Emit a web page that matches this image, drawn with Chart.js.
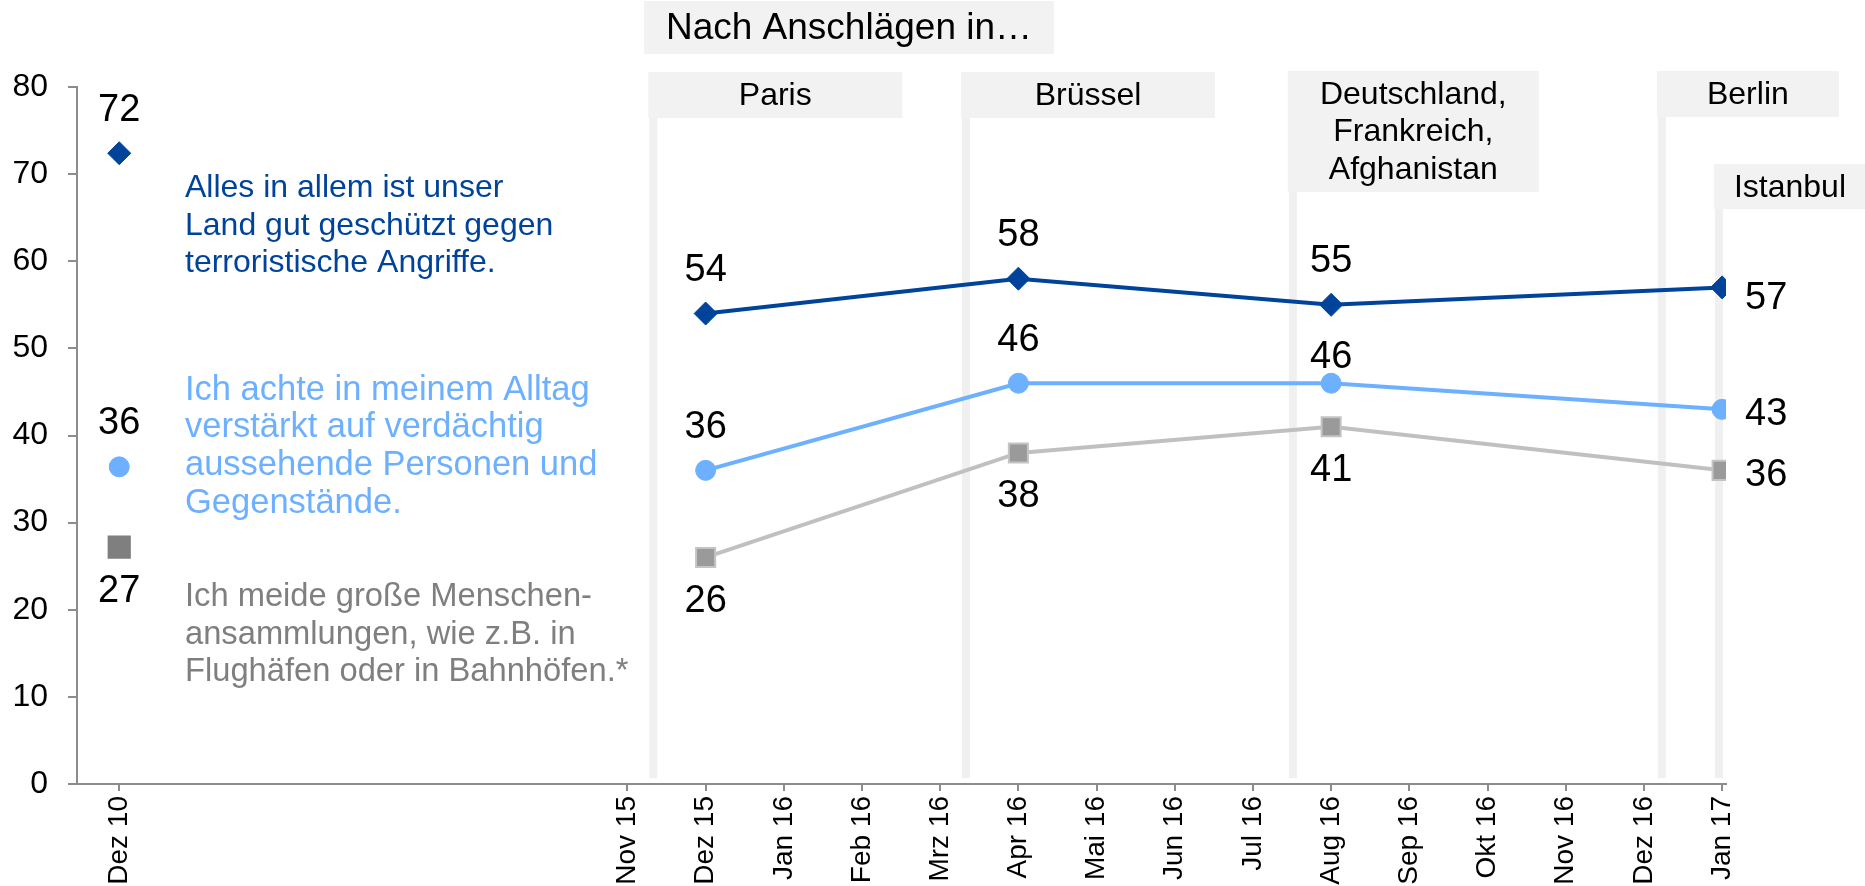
<!DOCTYPE html>
<html>
<head>
<meta charset="utf-8">
<script src="https://cdn.jsdelivr.net/npm/chart.js@4/dist/chart.umd.min.js"></script>
<style>
  html, body { margin: 0; background: #fff; }
  #wrap { width: 1865px; height: 886px; }
</style>
</head>
<body>
<div id="wrap"><canvas id="chart" width="1865" height="886"></canvas></div>
<script>
// Monate auf der x-Achse (Dez 10 steht links abgesetzt)
const months = ['Dez 10', 'Nov 15', 'Dez 15', 'Jan 16', 'Feb 16', 'Mrz 16', 'Apr 16', 'Mai 16',
                'Jun 16', 'Jul 16', 'Aug 16', 'Sep 16', 'Okt 16', 'Nov 16', 'Dez 16', 'Jan 17'];
// Befragungszeitpunkte
const surveys = ['Dez 10', 'Dez 15', 'Apr 16', 'Aug 16', 'Jan 17'];

// Werte in Prozent
const geschuetzt = [72.4, 54, 58, 55, 57];
const achte = [36.4, 36, 46, 46, 43];
const meide = [27.2, 26, 38, 41, 36];

const yTicks = [0, 10, 20, 30, 40, 50, 60, 70, 80];

// Anschläge: Monat + Anteil im Monat
const events = [
  { lines: ['Paris'], month: 'Nov 15', frac: 0.33 },
  { lines: ['Brüssel'], month: 'Mrz 16', frac: 0.33 },
  { lines: ['Deutschland,', 'Frankreich,', 'Afghanistan'], month: 'Jul 16', frac: 0.51 },
  { lines: ['Berlin'], month: 'Dez 16', frac: 0.23 },
  { lines: ['Istanbul'], month: 'Dez 16', frac: 0.96 }
];

const legendTexts = [
  { lines: ['Alles in allem ist unser', 'Land gut geschützt gegen', 'terroristische Angriffe.'], color: '#00439a', y: 188, size: 32 },
  { lines: ['Ich achte in meinem Alltag', 'verstärkt auf verdächtig', 'aussehende Personen und', 'Gegenstände.'], color: '#6cb0ff', y: 390, size: 34.5 },
  { lines: ['Ich meide große Menschen-', 'ansammlungen, wie z.B. in', 'Flughäfen oder in Bahnhöfen.*'], color: '#7f7f7f', y: 597, size: 32.7 }
];

const GAP = 6.5; // Abstand Dez 10 -> Nov 15 in Monatsbreiten
function monthPos(m) {
  const i = months.indexOf(m);
  return i === 0 ? 0 : GAP + (i - 1);
}

const FONT = '"Liberation Sans", Arial, sans-serif';

function points(values) {
  return surveys.map((s, i) => ({ x: monthPos(s), y: values[i] }));
}

function hideFirst(color) {
  return ctx => ctx.p0DataIndex === 0 ? 'rgba(0,0,0,0)' : color;
}

// Boxen für die Anschläge
const boxStyle = [
  { w: 254, top: 72, h: 46 },
  { w: 254, top: 72, h: 46 },
  { w: 251, top: 71, h: 121 },
  { w: 182, top: 71, h: 46 },
  { w: 152, top: 164, h: 45 }
];

const decoPlugin = {
  id: 'deco',
  beforeDatasetsDraw(chart) {
    const ctx = chart.ctx;
    const xs = chart.scales.x;
    const lineEnd = chart.chartArea.bottom - 6;
    ctx.save();
    // Kopfzeile
    ctx.fillStyle = '#f2f2f2';
    ctx.fillRect(644, 1, 410, 53);
    ctx.fillStyle = '#000';
    ctx.font = '37px ' + FONT;
    ctx.textAlign = 'center';
    ctx.textBaseline = 'middle';
    ctx.fillText('Nach Anschlägen in…', 849, 29);

    events.forEach((ev, i) => {
      const x = xs.getPixelForValue(monthPos(ev.month) + ev.frac);
      const b = boxStyle[i];
      ctx.fillStyle = '#f0f0f0';
      ctx.fillRect(x - 4, b.top + b.h, 8, lineEnd - b.top - b.h);
      ctx.fillStyle = '#f2f2f2';
      ctx.fillRect(x - 5, b.top, b.w, b.h);
      ctx.fillStyle = '#000';
      ctx.font = '32px ' + FONT;
      ev.lines.forEach((t, k) => {
        ctx.fillText(t, x - 5 + b.w / 2, b.top + 24 + k * 37.5);
      });
    });

    // Beschriftung der Reihen
    ctx.textAlign = 'left';
    legendTexts.forEach(lt => {
      ctx.fillStyle = lt.color;
      ctx.font = lt.size + 'px ' + FONT;
      lt.lines.forEach((t, k) => ctx.fillText(t, 185, lt.y + k * 37.7));
    });
    ctx.restore();
  },
  afterDatasetsDraw(chart) {
    const ctx = chart.ctx;
    ctx.save();
    ctx.fillStyle = '#000';
    ctx.font = '38px ' + FONT;
    ctx.textBaseline = 'middle';
    chart.data.datasets.forEach((ds, di) => {
      const meta = chart.getDatasetMeta(di);
      meta.data.forEach((pt, i) => {
        const where = ds.labelAt[i];
        const txt = String(Math.round(ds.data[i].y));
        if (where === 'right' || where === 'rightLow') {
          ctx.textAlign = 'left';
          ctx.fillText(txt, pt.x + 23, pt.y + (where === 'rightLow' ? 11 : 5));
        } else {
          ctx.textAlign = 'center';
          const dy = where === 'above' ? -43 : where === 'near' ? -26 : 44;
          ctx.fillText(txt, pt.x, pt.y + dy);
        }
      });
    });
    ctx.restore();
  }
};

const ctx = document.getElementById('chart').getContext('2d');
const chart = new Chart(ctx, {
  type: 'line',
  data: {
    datasets: [
      {
        label: 'meide',
        data: points(meide),
        borderColor: '#c0c0c0',
        segment: { borderColor: hideFirst('#c0c0c0') },
        borderWidth: 4,
        pointStyle: 'rect',
        pointRadius: [15, 13.5, 13.5, 13.5, 13.5],
        pointBackgroundColor: ['#7f7f7f', '#9a9a9a', '#9a9a9a', '#9a9a9a', '#9a9a9a'],
        pointBorderColor: ['#7f7f7f', '#c4c4c4', '#c4c4c4', '#c4c4c4', '#c4c4c4'],
        pointBorderWidth: 2,
        labelAt: ['below', 'below', 'below', 'below', 'right']
      },
      {
        label: 'achte',
        data: points(achte),
        borderColor: '#6cb0ff',
        segment: { borderColor: hideFirst('#6cb0ff') },
        borderWidth: 4,
        pointStyle: 'circle',
        pointRadius: 10,
        pointBackgroundColor: '#6cb0ff',
        pointBorderColor: '#6cb0ff',
        pointBorderWidth: 1,
        labelAt: ['above', 'above', 'above', 'near', 'right']
      },
      {
        label: 'geschuetzt',
        data: points(geschuetzt),
        borderColor: '#00439a',
        segment: { borderColor: hideFirst('#00439a') },
        borderWidth: 4,
        pointStyle: 'rectRot',
        pointRadius: 11.5,
        pointBackgroundColor: '#00439a',
        pointBorderColor: '#00439a',
        pointBorderWidth: 1,
        labelAt: ['above', 'above', 'above', 'above', 'rightLow']
      }
    ]
  },
  options: {
    responsive: false,
    animation: false,
    layout: { padding: { top: 87, right: 139, left: 0, bottom: 0 } },
    plugins: { legend: { display: false }, tooltip: { enabled: false } },
    scales: {
      x: {
        type: 'linear',
        min: -0.54,
        max: 20.55,
        afterFit: s => { s.height = 102; },
        afterBuildTicks: s => { s.ticks = months.map(m => ({ value: monthPos(m) })); },
        grid: { drawOnChartArea: false, drawTicks: true, tickLength: 7, color: '#8c8c8c', lineWidth: 2 },
        border: { color: '#8c8c8c', width: 2 },
        ticks: {
          autoSkip: false,
          minRotation: 90,
          maxRotation: 90,
          padding: 5,
          color: '#000',
          font: { family: FONT, size: 28 },
          callback: (v, i) => months[i]
        }
      },
      y: {
        min: 0,
        max: 80,
        afterFit: s => { s.width = 77; },
        afterBuildTicks: s => { s.ticks = yTicks.map(v => ({ value: v })); },
        grid: { drawOnChartArea: false, drawTicks: true, tickLength: 9, color: '#8c8c8c', lineWidth: 2 },
        border: { color: '#8c8c8c', width: 2 },
        ticks: {
          padding: 20,
          color: '#000',
          font: { family: FONT, size: 32 }
        }
      }
    }
  },
  plugins: [decoPlugin]
});
</script>
</body>
</html>
